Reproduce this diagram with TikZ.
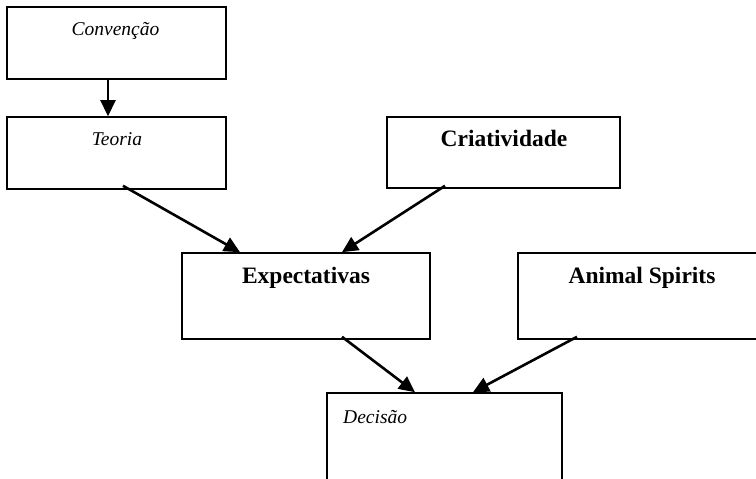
\documentclass[tikz,border=0pt]{standalone}
\usepackage{fontspec}
\setmainfont{Liberation Serif}
\usetikzlibrary{arrows.meta}
\tikzset{
  box/.style={draw=black, line width=1.6pt, minimum width=#1, inner sep=0pt, fill=white},
  itxt/.style={inner sep=0pt, font=\fontsize{19.5}{22}\selectfont\itshape},
  btxt/.style={inner sep=0pt, font=\fontsize{23.5}{27}\selectfont\bfseries},
  arr/.style={line width=2.6pt, -{Triangle[length=16pt,width=15pt]}}
}
\begin{document}
\begin{tikzpicture}[x=1pt,y=-1pt]
\useasboundingbox (0,0) rectangle (756,479);
\clip (0,0) rectangle (756,479);
\fill[white] (0,0) rectangle (756,479);
% boxes
\node[box=219pt, minimum height=72pt] (conv) at (116.5,43) {};
\node[box=219pt, minimum height=72pt] (teoria) at (116.5,153) {};
\node[box=233pt, minimum height=71pt] (criat) at (503.5,152.5) {};
\node[box=248pt, minimum height=86pt] (expect) at (306,296) {};
\node[box=244pt, minimum height=86pt] (animal) at (640,296) {};
\node[box=235pt, minimum height=92pt] (decisao) at (444.5,439) {};
% texts
\node[itxt, anchor=base] (tconv) at (115.5,35) {Convenção};
\node[itxt, anchor=base] (tteoria) at (117,145) {Teoria};
\node[btxt, anchor=base] (tcriat) at (504,146) {Criatividade};
\node[btxt, anchor=base] (texpect) at (306,283) {Expectativas};
\node[btxt, anchor=base] (tanimal) at (642,283) {Animal Spirits};
\node[itxt, anchor=base west] (tdecisao) at (343,423) {Decisão};
% connectors
\draw[arr] ([xshift=-8.5pt]conv.south) -- ([xshift=-8.5pt]teoria.north);
\draw[arr] ([xshift=6.5pt,yshift=4pt]teoria.south) -- ([xshift=-66pt]expect.north);
\draw[arr] ([xshift=-58.5pt,yshift=3pt]criat.south) -- ([xshift=36pt]expect.north);
\draw[arr] ([xshift=36pt,yshift=3pt]expect.south) -- ([xshift=-29.5pt]decisao.north);
\draw[arr] ([xshift=-63pt,yshift=3pt]animal.south) -- ([xshift=28.5pt]decisao.north);
\end{tikzpicture}
\end{document}
